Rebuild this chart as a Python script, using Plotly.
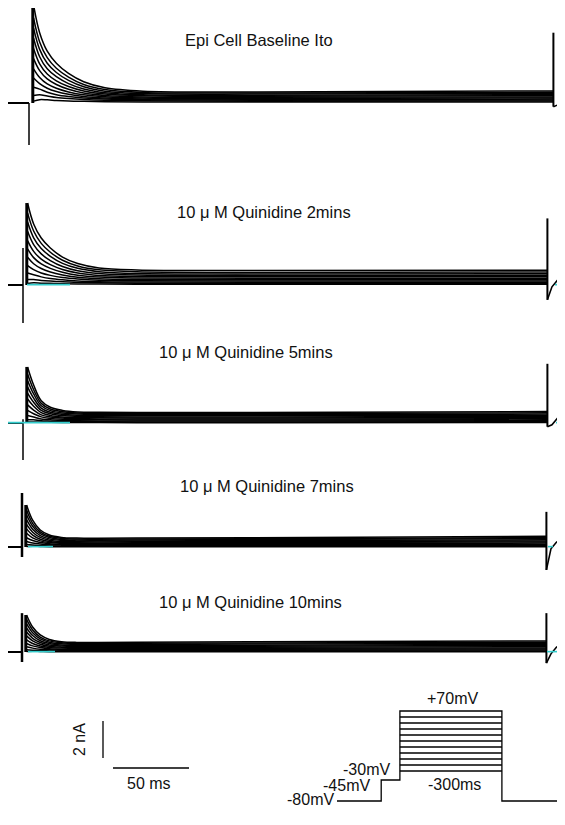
import plotly.graph_objects as go

# ---------------- data ----------------
# sample times after step onset (ms) for the decaying Ito traces
T_ms = [3, 7, 12, 18, 26, 36, 50, 75, 150, 345]
test_mV = [70, 60, 50, 40, 30, 20, 10, 0, -10, -20, -30]

panel_titles = ["Epi Cell Baseline Ito",
                "10 μ M Quinidine 2mins",
                "10 μ M Quinidine 5mins",
                "10 μ M Quinidine 7mins",
                "10 μ M Quinidine 10mins"]

# current (nA) above baseline, one row per test potential (+70 ... -30 mV)
ito_baseline = [
    [5.30, 3.80, 2.80, 2.15, 1.60, 1.15, 0.82, 0.64, 0.60, 0.65],
    [4.60, 3.30, 2.45, 1.88, 1.40, 1.00, 0.73, 0.57, 0.54, 0.58],
    [4.05, 2.90, 2.15, 1.65, 1.22, 0.88, 0.64, 0.51, 0.48, 0.52],
    [3.50, 2.50, 1.85, 1.42, 1.05, 0.76, 0.56, 0.45, 0.42, 0.45],
    [2.95, 2.12, 1.57, 1.20, 0.89, 0.65, 0.48, 0.39, 0.36, 0.39],
    [2.40, 1.75, 1.30, 1.00, 0.74, 0.54, 0.41, 0.33, 0.31, 0.33],
    [1.85, 1.38, 1.03, 0.80, 0.60, 0.44, 0.34, 0.27, 0.25, 0.27],
    [1.35, 1.05, 0.80, 0.62, 0.47, 0.35, 0.27, 0.22, 0.20, 0.21],
    [0.85, 0.75, 0.58, 0.45, 0.35, 0.27, 0.21, 0.17, 0.15, 0.16],
    [0.40, 0.45, 0.38, 0.30, 0.24, 0.19, 0.15, 0.12, 0.10, 0.11],
    [0.10, 0.18, 0.17, 0.14, 0.11, 0.09, 0.07, 0.06, 0.05, 0.05],
]
ito_quin_2min = [
    [4.43, 3.30, 2.54, 2.00, 1.51, 1.16, 0.92, 0.81, 0.78, 0.80],
    [3.90, 2.92, 2.25, 1.77, 1.34, 1.03, 0.82, 0.71, 0.68, 0.70],
    [3.40, 2.55, 1.97, 1.55, 1.17, 0.90, 0.72, 0.62, 0.60, 0.61],
    [2.90, 2.18, 1.68, 1.32, 1.00, 0.77, 0.62, 0.54, 0.52, 0.53],
    [2.40, 1.82, 1.40, 1.10, 0.84, 0.65, 0.52, 0.46, 0.44, 0.45],
    [1.95, 1.48, 1.14, 0.90, 0.69, 0.53, 0.43, 0.38, 0.36, 0.37],
    [1.50, 1.15, 0.89, 0.70, 0.54, 0.42, 0.34, 0.30, 0.29, 0.29],
    [1.05, 0.83, 0.65, 0.52, 0.40, 0.32, 0.26, 0.23, 0.22, 0.22],
    [0.65, 0.55, 0.44, 0.35, 0.28, 0.22, 0.18, 0.16, 0.15, 0.15],
    [0.30, 0.30, 0.25, 0.21, 0.17, 0.14, 0.12, 0.10, 0.09, 0.09],
    [0.08, 0.12, 0.10, 0.09, 0.07, 0.06, 0.05, 0.04, 0.04, 0.04],
]
ito_quin_5min = [
    [3.03, 2.05, 1.20, 0.85, 0.68, 0.60, 0.58, 0.57, 0.57, 0.62],
    [2.65, 1.80, 1.06, 0.76, 0.61, 0.54, 0.52, 0.51, 0.51, 0.55],
    [2.30, 1.57, 0.93, 0.67, 0.54, 0.48, 0.46, 0.45, 0.45, 0.48],
    [1.95, 1.34, 0.80, 0.58, 0.47, 0.42, 0.40, 0.39, 0.39, 0.42],
    [1.62, 1.12, 0.68, 0.50, 0.40, 0.36, 0.34, 0.33, 0.33, 0.36],
    [1.30, 0.91, 0.56, 0.41, 0.33, 0.30, 0.28, 0.27, 0.27, 0.30],
    [0.98, 0.70, 0.44, 0.33, 0.27, 0.24, 0.22, 0.21, 0.21, 0.23],
    [0.68, 0.50, 0.33, 0.25, 0.20, 0.18, 0.17, 0.16, 0.16, 0.17],
    [0.40, 0.32, 0.22, 0.17, 0.14, 0.12, 0.11, 0.11, 0.11, 0.12],
    [0.18, 0.17, 0.12, 0.10, 0.08, 0.07, 0.07, 0.06, 0.06, 0.07],
    [0.05, 0.06, 0.05, 0.04, 0.03, 0.03, 0.03, 0.02, 0.02, 0.03],
]
ito_quin_7min = [
    [2.27, 1.45, 0.92, 0.65, 0.52, 0.48, 0.47, 0.48, 0.50, 0.58],
    [2.00, 1.28, 0.82, 0.58, 0.47, 0.43, 0.42, 0.43, 0.45, 0.51],
    [1.74, 1.12, 0.72, 0.51, 0.41, 0.38, 0.37, 0.38, 0.40, 0.45],
    [1.48, 0.96, 0.62, 0.44, 0.36, 0.33, 0.32, 0.33, 0.35, 0.39],
    [1.22, 0.80, 0.52, 0.37, 0.30, 0.28, 0.27, 0.28, 0.29, 0.33],
    [0.98, 0.64, 0.42, 0.30, 0.25, 0.23, 0.22, 0.23, 0.24, 0.27],
    [0.74, 0.49, 0.33, 0.24, 0.20, 0.18, 0.17, 0.18, 0.19, 0.21],
    [0.50, 0.35, 0.24, 0.18, 0.15, 0.13, 0.13, 0.13, 0.14, 0.15],
    [0.30, 0.22, 0.16, 0.12, 0.10, 0.09, 0.09, 0.09, 0.09, 0.10],
    [0.13, 0.11, 0.08, 0.06, 0.05, 0.05, 0.05, 0.05, 0.05, 0.06],
    [0.03, 0.04, 0.03, 0.02, 0.02, 0.02, 0.02, 0.02, 0.02, 0.02],
]
ito_quin_10min = [
    [2.00, 1.35, 0.92, 0.68, 0.56, 0.52, 0.52, 0.53, 0.55, 0.60],
    [1.76, 1.19, 0.81, 0.60, 0.50, 0.46, 0.46, 0.47, 0.49, 0.53],
    [1.53, 1.04, 0.71, 0.53, 0.44, 0.41, 0.41, 0.41, 0.43, 0.47],
    [1.30, 0.89, 0.61, 0.46, 0.38, 0.35, 0.35, 0.36, 0.37, 0.41],
    [1.08, 0.74, 0.51, 0.38, 0.32, 0.30, 0.30, 0.30, 0.31, 0.35],
    [0.87, 0.60, 0.42, 0.31, 0.26, 0.24, 0.24, 0.25, 0.26, 0.29],
    [0.66, 0.46, 0.33, 0.25, 0.21, 0.19, 0.19, 0.19, 0.20, 0.22],
    [0.46, 0.33, 0.24, 0.18, 0.15, 0.14, 0.14, 0.14, 0.15, 0.16],
    [0.28, 0.21, 0.15, 0.12, 0.10, 0.09, 0.09, 0.09, 0.10, 0.11],
    [0.12, 0.10, 0.08, 0.06, 0.05, 0.05, 0.05, 0.05, 0.05, 0.06],
    [0.03, 0.04, 0.03, 0.02, 0.02, 0.02, 0.02, 0.02, 0.02, 0.02],
]
panel_traces = [ito_baseline, ito_quin_2min, ito_quin_5min, ito_quin_7min, ito_quin_10min]

# capacitive artifact at step onset (nA, low / high relative to baseline)
onset_artifact_nA = [(-2.27, 0.0), (-2.05, 2.0), (-2.0, 0.2), (-0.54, 2.92), (-0.54, 2.1)]
# artifact at the end of the test step (nA)
end_artifact_nA = [(-0.2, 3.8), (-0.8, 3.6), (-0.2, 3.2), (-1.24, 1.9), (-0.6, 2.1)]
step_end_ms = 345

# voltage protocol (schematic)
prot_t_ms = [0, 130, 130, 185, 185, 485, 485, 660]
prot_mV = [-80, -80, -45, -45, 70, 70, -80, -80]
prot_step_start_ms, prot_step_end_ms = 185, 485

scale_ms = 50
scale_nA = 2

# ---------------- layout constants (window pixels of the 565x825 page) ----------------
PAGE_MARGIN = 8                      # default body margin of the html page
W, H = 565 - PAGE_MARGIN, 825 - PAGE_MARGIN
PX_PER_MS = 1.52
PX_PER_NA = 18.5
X0_PX = 23
panel_baseline_px = [103, 285, 423, 547, 652]
panel_onset_px = [29, 23, 23, 22, 22]
title_pos_px = [(259, 40), (264, 212), (246, 352), (267, 486), (250, 602)]
cyan_segments_px = [[], [(27, 70), (555, 560)], [(8, 70), (556, 562)],
                    [(28, 53), (548, 553)], [(28, 55), (547, 560)]]


def xms(px):
    return (px - X0_PX) / PX_PER_MS


def ynA(py):
    return -py / PX_PER_NA


def paper_x(px):
    return (px - PAGE_MARGIN) / W


def paper_y(py):
    return 1 - (py - PAGE_MARGIN) / H


BLACK = "#000000"
CYAN = "#33cccc"
FONT = "Liberation Sans, Arial, sans-serif"

fig = go.Figure()


def line(x, y, color=BLACK, width=1.3, shape="linear", axes=("x", "y")):
    fig.add_trace(go.Scatter(x=x, y=y, mode="lines", xaxis=axes[0], yaxis=axes[1],
                             line=dict(color=color, width=width, shape=shape, smoothing=1.0),
                             hoverinfo="skip", showlegend=False))


for p in range(5):
    off = ynA(panel_baseline_px[p])
    t0 = xms(panel_onset_px[p])
    traces = panel_traces[p]
    # holding baseline before the step
    line([xms(8), t0], [off, off], width=2)
    # capacitive transient at onset
    lo, hi = onset_artifact_nA[p]
    line([t0, t0], [off + lo, off + hi], width=2.5 if p >= 3 else 1.5)
    # fast activation edge
    line([t0 + T_ms[0] - 0.5] * 2, [off, off + traces[0][0]], width=3)
    # decaying Ito family
    for tr in traces:
        line([t0 + t for t in T_ms], [off + v for v in tr], shape="spline", width=1.5)
    # end-of-step artifact and tail
    elo, ehi = end_artifact_nA[p]
    te = t0 + step_end_ms
    line([te, te], [off + ehi, off + elo], width=2)
    line([te, te + 3, te + 7], [off + elo, off - 0.1, off + 0.3], width=1.6)
    # zero-current reference (cyan)
    for a, b in cyan_segments_px[p]:
        line([xms(a), xms(b)], [off + 0.02, off + 0.02], color=CYAN, width=1.6)

# scale bars
sb_x = xms(103)
sb_y0 = ynA(758)
line([sb_x, sb_x], [sb_y0, sb_y0 + scale_nA], width=1.3)
hb_x0 = xms(113)
hb_y = ynA(768)
line([hb_x0, hb_x0 + scale_ms], [hb_y, hb_y], width=1.3)

# voltage protocol on its own axes
PROT_PX_PER_MS = 0.34
PROT_X0_PX = 337
PROT_PX_PER_MV = 0.6
PROT_Y70_PX = 711
line(prot_t_ms, prot_mV, width=1.3, axes=("x2", "y2"))
for v in test_mV[1:]:
    line([prot_step_start_ms, prot_step_end_ms], [v, v], width=1.3, axes=("x2", "y2"))

ann = []
for (cx, cy), txt in zip(title_pos_px, panel_titles):
    ann.append(dict(x=paper_x(cx), y=paper_y(cy), xref="paper", yref="paper", text=txt,
                    showarrow=False, xanchor="center", yanchor="middle",
                    font=dict(size=16.5, color="#111", family=FONT)))
ann.append(dict(x=xms(79), y=ynA(740), xref="x", yref="y", text=f"{scale_nA} nA",
                textangle=-90, showarrow=False, font=dict(size=16, color="#111", family=FONT)))
ann.append(dict(x=xms(149), y=ynA(783), xref="x", yref="y", text=f"{scale_ms} ms",
                showarrow=False, font=dict(size=16, color="#111", family=FONT)))
prot_labels = [("+70mV", 341, 70, "center", "bottom", 2),
               ("-30mV", 162, -30, "right", "middle", 2),
               ("-45mV", 104, -45, "right", "middle", -5),
               ("-80mV", -4, -80, "right", "middle", 2),
               ("-300ms", 347, -53, "center", "middle", 0)]
for txt, tx, ty, xa, ya, ys in prot_labels:
    ann.append(dict(x=tx, y=ty, xref="x2", yref="y2", text=txt, showarrow=False,
                    xanchor=xa, yanchor=ya, yshift=ys,
                    font=dict(size=16, color="#111", family=FONT)))

hidden = dict(visible=False, showgrid=False, zeroline=False, fixedrange=True)
fig.update_layout(
    width=W, height=H, margin=dict(l=0, r=0, t=0, b=0),
    paper_bgcolor="white", plot_bgcolor="white", showlegend=False,
    xaxis=dict(range=[xms(PAGE_MARGIN), xms(PAGE_MARGIN + W)], domain=[0, 1], **hidden),
    yaxis=dict(range=[ynA(PAGE_MARGIN + H), ynA(PAGE_MARGIN)], domain=[0, 1], **hidden),
    xaxis2=dict(range=[(PAGE_MARGIN - PROT_X0_PX) / PROT_PX_PER_MS,
                       (PAGE_MARGIN + W - PROT_X0_PX) / PROT_PX_PER_MS],
                domain=[0, 1], anchor="y2", overlaying="x", **hidden),
    yaxis2=dict(range=[70 - (PAGE_MARGIN + H - PROT_Y70_PX) / PROT_PX_PER_MV,
                       70 - (PAGE_MARGIN - PROT_Y70_PX) / PROT_PX_PER_MV],
                domain=[0, 1], anchor="x2", overlaying="y", **hidden),
    annotations=ann,
)

fig.write_html("out.html", config={"displayModeBar": False})
